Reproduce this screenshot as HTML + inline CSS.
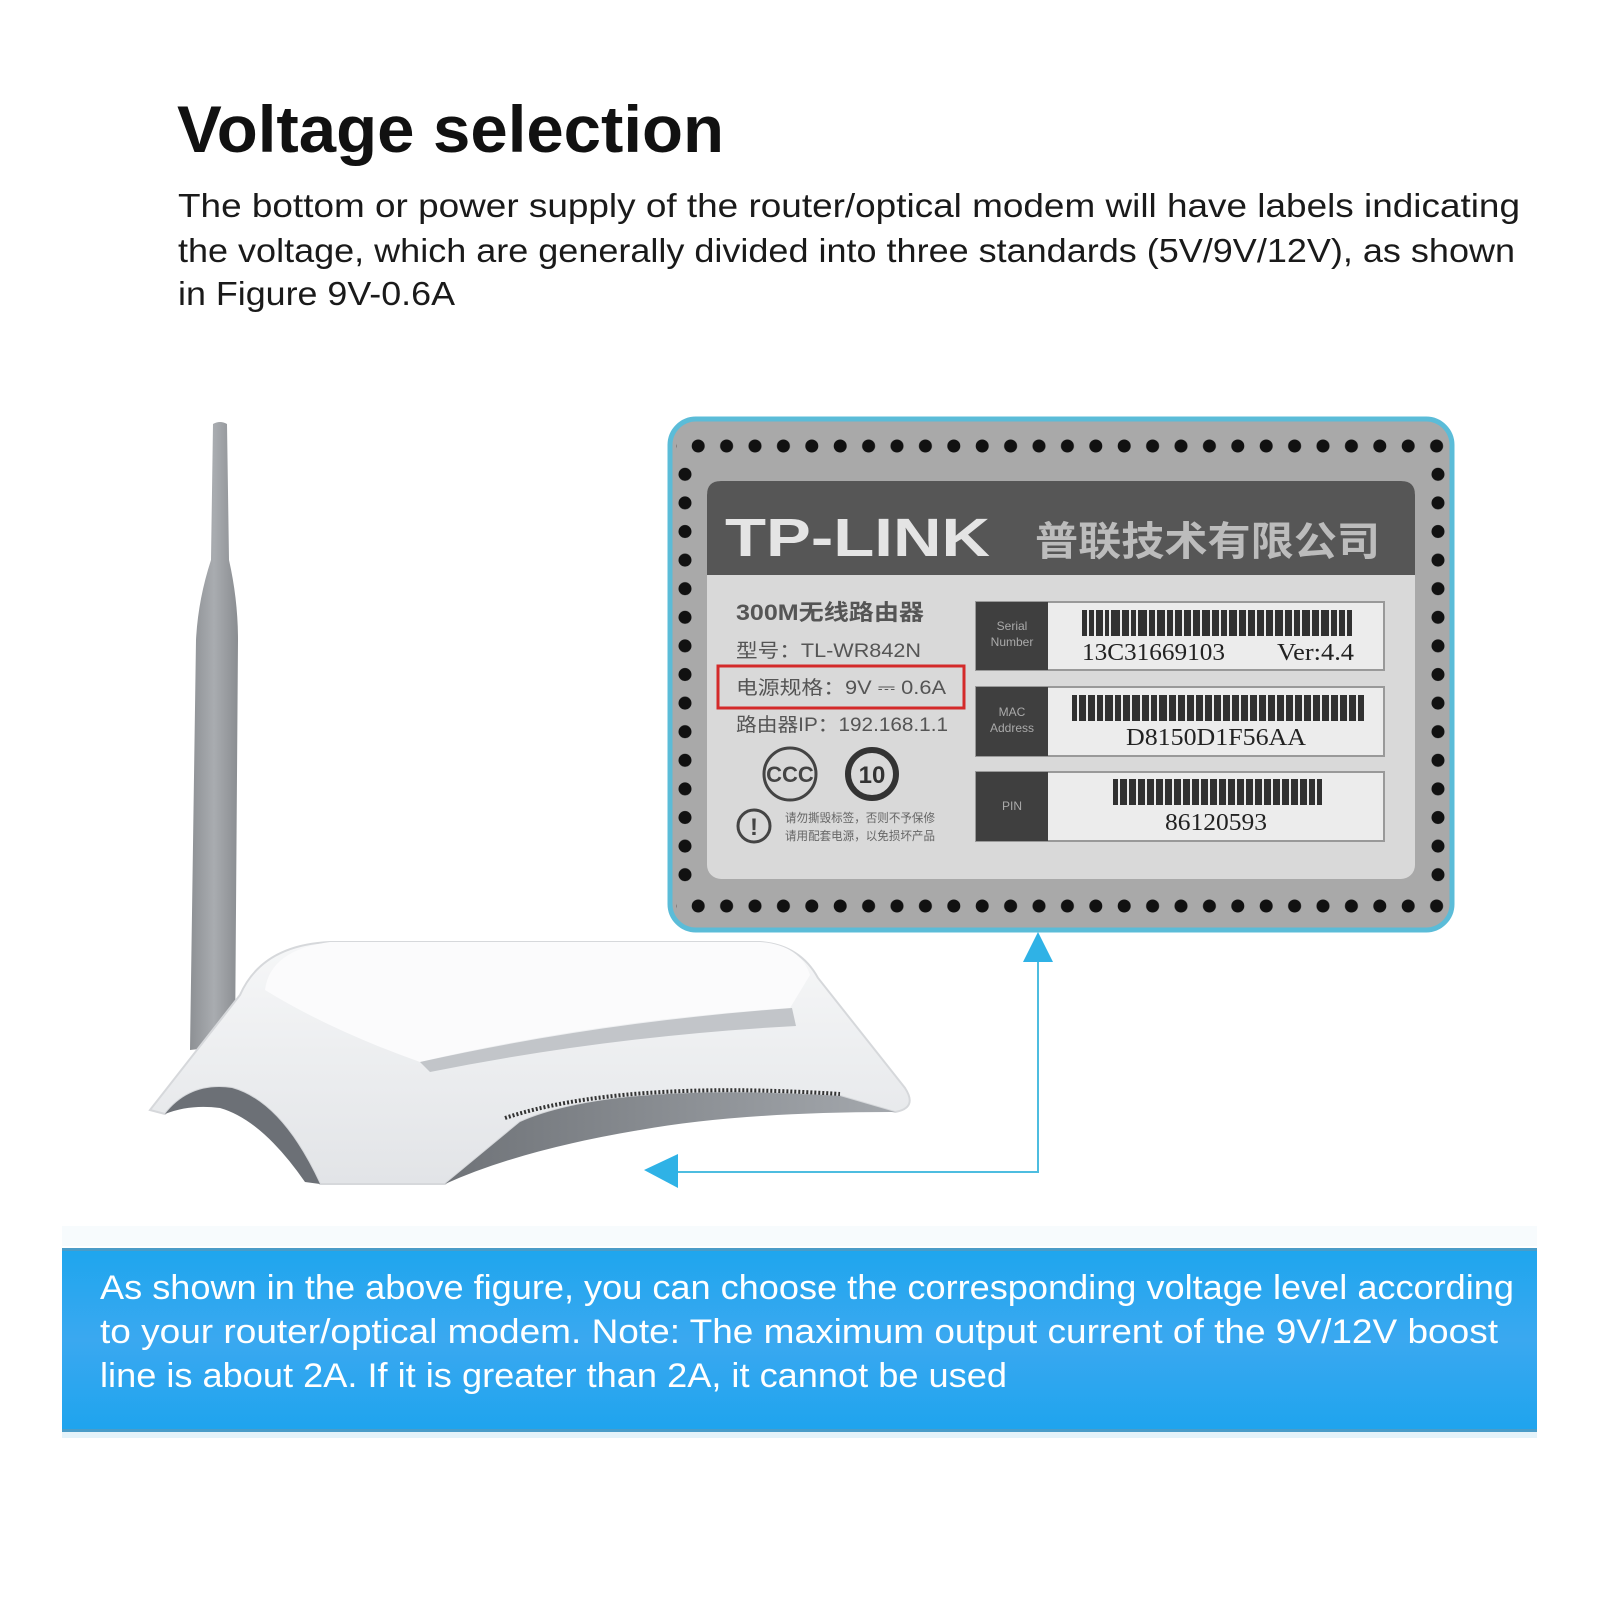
<!DOCTYPE html>
<html><head><meta charset="utf-8">
<style>
html,body{margin:0;padding:0;background:#fff;}
svg{display:block;}
</style></head>
<body>
<svg width="1600" height="1600" viewBox="0 0 1600 1600" xmlns="http://www.w3.org/2000/svg">
<defs>
<pattern id="dh" x="684" y="0" width="28.4" height="1600" patternUnits="userSpaceOnUse">
<circle cx="14.2" cy="446" r="6.5" fill="#111"/>
<circle cx="14.2" cy="906" r="6.5" fill="#111"/>
</pattern>
<pattern id="dv" x="0" y="460" width="1600" height="28.6" patternUnits="userSpaceOnUse">
<circle cx="685" cy="14.3" r="6.5" fill="#111"/>
<circle cx="1438" cy="14.3" r="6.5" fill="#111"/>
</pattern>
<linearGradient id="ant" x1="0" x2="1"><stop offset="0" stop-color="#8d9094"/><stop offset="0.5" stop-color="#a9acb0"/><stop offset="1" stop-color="#8a8d91"/></linearGradient>
<linearGradient id="body" x1="0" y1="0" x2="0" y2="1"><stop offset="0" stop-color="#f6f7f8"/><stop offset="1" stop-color="#e2e4e7"/></linearGradient>
<linearGradient id="under" x1="0" y1="0" x2="1" y2="0"><stop offset="0" stop-color="#6f7378"/><stop offset="1" stop-color="#a4a8ad"/></linearGradient>
<linearGradient id="blue" x1="0" y1="0" x2="0" y2="1"><stop offset="0" stop-color="#1ea6ee"/><stop offset="0.5" stop-color="#3aa8f0"/><stop offset="1" stop-color="#1ea4ee"/></linearGradient>
</defs>

<g font-family="'Liberation Sans','Noto Sans CJK SC',sans-serif">
<text x="177" y="152" font-size="66" font-weight="bold" fill="#111" textLength="547" lengthAdjust="spacingAndGlyphs">Voltage selection</text>
<text x="178" y="217" font-size="33" fill="#1a1a1a" textLength="1342" lengthAdjust="spacingAndGlyphs">The bottom or power supply of the router/optical modem will have labels indicating</text>
<text x="178" y="262" font-size="33" fill="#1a1a1a" textLength="1337" lengthAdjust="spacingAndGlyphs">the voltage, which are generally divided into three standards (5V/9V/12V), as shown</text>
<text x="178" y="305" font-size="33" fill="#1a1a1a" textLength="277" lengthAdjust="spacingAndGlyphs">in Figure 9V-0.6A</text>

<path d="M213,424 Q220,420 227,424 L229,560 Q238,600 238,640 L235,1045 L190,1050 L196,640 Q198,600 211,560 Z" fill="url(#ant)"/>

<path d="M150,1110 L240,995 Q262,945 330,942 L760,942 Q800,945 818,978 L905,1088 Q918,1108 895,1112 L840,1096 Q610,1082 520,1122 L445,1184 L320,1184 Q282,1102 232,1088 Q190,1082 165,1114 Z" fill="url(#body)" stroke="#d6d8db" stroke-width="2"/>
<path d="M330,942 L760,942 Q800,945 810,975 L790,1008 Q600,1020 420,1062 Q330,1030 265,990 Q270,950 330,942 Z" fill="#fbfbfc"/>
<path d="M420,1062 Q600,1022 792,1008 L796,1026 Q610,1036 430,1072 Z" fill="#c2c5c9"/>
<path d="M165,1114 Q190,1082 232,1088 Q282,1102 320,1184 L305,1182 Q262,1120 220,1108 Q190,1104 165,1114 Z" fill="#6c7076"/>
<path d="M445,1184 L520,1122 Q610,1082 840,1096 L895,1112 Q740,1112 640,1130 Q520,1150 445,1184 Z" fill="url(#under)"/>
<path d="M505,1118 Q620,1080 840,1094" stroke="#333" stroke-width="4" fill="none" stroke-dasharray="2 2"/>

<rect x="670" y="419" width="782" height="511" rx="26" fill="#a9a9a9" stroke="#5bbcd8" stroke-width="5"/>
<rect x="676" y="434" width="768" height="24" fill="url(#dh)"/>
<rect x="676" y="894" width="768" height="24" fill="url(#dh)"/>
<rect x="674" y="460" width="22" height="430" fill="url(#dv)"/>
<rect x="1427" y="460" width="22" height="430" fill="url(#dv)"/>
<rect x="707" y="481" width="708" height="398" rx="14" fill="#d9d9d9"/>
<path d="M721,481 L1401,481 Q1415,481 1415,495 L1415,575 L707,575 L707,495 Q707,481 721,481 Z" fill="#565656"/>
<text x="725" y="556" font-size="54" font-weight="bold" fill="#e4e4e4" textLength="265" lengthAdjust="spacingAndGlyphs">TP-LINK</text>
<text x="1035" y="555" font-size="40" font-weight="bold" fill="#bcbcbc" textLength="345" lengthAdjust="spacingAndGlyphs">普联技术有限公司</text>

<g fill="#555" font-weight="bold">
<text x="736" y="620" font-size="22" textLength="188" lengthAdjust="spacingAndGlyphs">300M无线路由器</text>
<text x="736" y="657" font-size="19" font-weight="normal" textLength="185" lengthAdjust="spacingAndGlyphs">型号：TL-WR842N</text>
<text x="736" y="694" font-size="19" font-weight="normal" textLength="210" lengthAdjust="spacingAndGlyphs">电源规格：9V ⎓ 0.6A</text>
<text x="736" y="731" font-size="19" font-weight="normal" textLength="212" lengthAdjust="spacingAndGlyphs">路由器IP：192.168.1.1</text>
</g>
<rect x="718" y="666" width="246" height="42" fill="none" stroke="#d42a2a" stroke-width="3"/>
<circle cx="790" cy="774" r="26" fill="none" stroke="#444" stroke-width="3"/>
<text x="790" y="782" font-size="22" font-weight="bold" fill="#444" text-anchor="middle">CCC</text>
<circle cx="872" cy="774" r="24" fill="none" stroke="#333" stroke-width="6"/>
<text x="872" y="783" font-size="24" font-weight="bold" fill="#333" text-anchor="middle">10</text>
<circle cx="754" cy="826" r="16" fill="none" stroke="#444" stroke-width="3"/>
<text x="754" y="835" font-size="24" font-weight="bold" fill="#444" text-anchor="middle">!</text>
<text x="785" y="822" font-size="12" fill="#666" textLength="150" lengthAdjust="spacingAndGlyphs">请勿撕毁标签，否则不予保修</text>
<text x="785" y="840" font-size="12" fill="#666" textLength="150" lengthAdjust="spacingAndGlyphs">请用配套电源，以免损坏产品</text>

<g>
<rect x="976" y="602" width="408" height="68" fill="#ececec" stroke="#999" stroke-width="2"/>
<rect x="976" y="602" width="72" height="68" fill="#3f3f3f"/>
<rect x="976" y="687" width="408" height="69" fill="#ececec" stroke="#999" stroke-width="2"/>
<rect x="976" y="687" width="72" height="69" fill="#3f3f3f"/>
<rect x="976" y="772" width="408" height="69" fill="#ececec" stroke="#999" stroke-width="2"/>
<rect x="976" y="772" width="72" height="69" fill="#3f3f3f"/>
<text x="1012" y="630" font-size="12" fill="#aaa" text-anchor="middle">Serial</text>
<text x="1012" y="646" font-size="12" fill="#aaa" text-anchor="middle">Number</text>
<text x="1012" y="716" font-size="12" fill="#aaa" text-anchor="middle">MAC</text>
<text x="1012" y="732" font-size="12" fill="#aaa" text-anchor="middle">Address</text>
<text x="1012" y="810" font-size="12" fill="#aaa" text-anchor="middle">PIN</text>
<rect x="1082" y="610" width="270" height="26" fill="#111" opacity="0.85"/>
<rect x="1072" y="695" width="292" height="26" fill="#111" opacity="0.85"/>
<rect x="1113" y="779" width="209" height="26" fill="#111" opacity="0.85"/>
<g stroke="#ececec" stroke-width="2">
<path d="M1088,610V636M1095,610V636M1104,610V636M1110,610V636M1121,610V636M1130,610V636M1137,610V636M1148,610V636M1156,610V636M1166,610V636M1174,610V636M1183,610V636M1192,610V636M1201,610V636M1211,610V636M1220,610V636M1228,610V636M1238,610V636M1247,610V636M1256,610V636M1265,610V636M1274,610V636M1284,610V636M1293,610V636M1301,610V636M1311,610V636M1320,610V636M1330,610V636M1338,610V636M1346,610V636"/>
<path d="M1078,695V721M1087,695V721M1096,695V721M1104,695V721M1114,695V721M1122,695V721M1131,695V721M1141,695V721M1150,695V721M1158,695V721M1168,695V721M1177,695V721M1186,695V721M1195,695V721M1204,695V721M1213,695V721M1222,695V721M1231,695V721M1240,695V721M1249,695V721M1258,695V721M1267,695V721M1276,695V721M1285,695V721M1294,695V721M1303,695V721M1312,695V721M1321,695V721M1330,695V721M1339,695V721M1348,695V721M1357,695V721"/>
<path d="M1119,779V805M1128,779V805M1137,779V805M1146,779V805M1155,779V805M1164,779V805M1173,779V805M1182,779V805M1191,779V805M1200,779V805M1209,779V805M1218,779V805M1227,779V805M1236,779V805M1245,779V805M1254,779V805M1263,779V805M1272,779V805M1281,779V805M1290,779V805M1299,779V805M1308,779V805M1316,779V805"/>
</g>
<g font-family="'Liberation Serif',serif" fill="#222" font-size="24">
<text x="1082" y="660" textLength="143" lengthAdjust="spacingAndGlyphs">13C31669103</text>
<text x="1277" y="660" textLength="77" lengthAdjust="spacingAndGlyphs">Ver:4.4</text>
<text x="1216" y="745" text-anchor="middle" textLength="180" lengthAdjust="spacingAndGlyphs">D8150D1F56AA</text>
<text x="1216" y="830" text-anchor="middle" textLength="102" lengthAdjust="spacingAndGlyphs">86120593</text>
</g>
</g>

<polyline points="1038,960 1038,1172 670,1172" fill="none" stroke="#4dbde0" stroke-width="2"/>
<polygon points="1038,932 1023,962 1053,962" fill="#2fb2e6"/>
<polygon points="644,1170 678,1154 678,1188" fill="#2fb2e6"/>

<rect x="62" y="1226" width="1475" height="20" fill="#f7fbfd"/>
<rect x="62" y="1248" width="1475" height="184" fill="url(#blue)"/>
<rect x="62" y="1248" width="1475" height="3" fill="#4a9cc8"/>
<rect x="62" y="1429" width="1475" height="3" fill="#4a9cc8"/>
<rect x="62" y="1432" width="1475" height="6" fill="#e4f3fa"/>
<g fill="#fff" font-size="34">
<text x="100" y="1299" textLength="1414" lengthAdjust="spacingAndGlyphs">As shown in the above figure, you can choose the corresponding voltage level according</text>
<text x="100" y="1343" textLength="1398" lengthAdjust="spacingAndGlyphs">to your router/optical modem. Note: The maximum output current of the 9V/12V boost</text>
<text x="100" y="1387" textLength="907" lengthAdjust="spacingAndGlyphs">line is about 2A. If it is greater than 2A, it cannot be used</text>
</g>
</g>
</svg>
</body></html>
